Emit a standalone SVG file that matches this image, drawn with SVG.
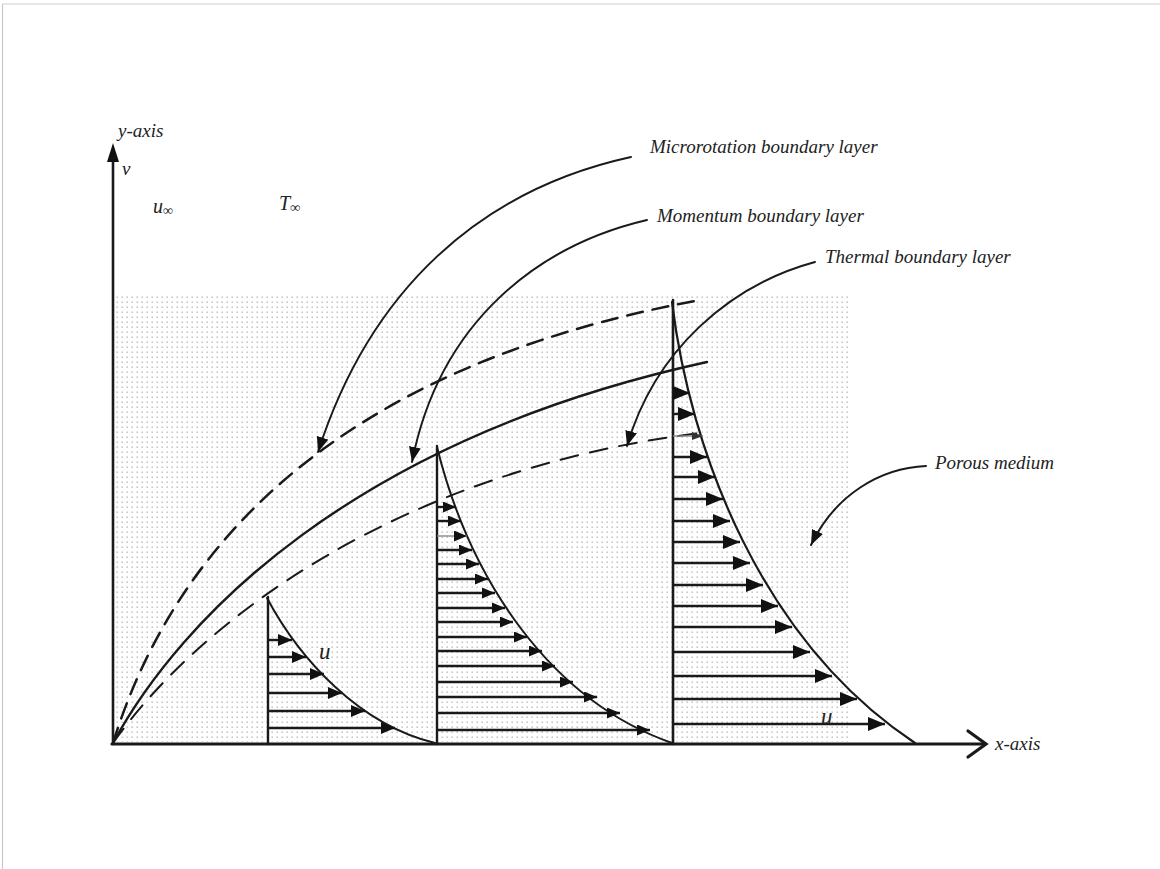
<svg xmlns="http://www.w3.org/2000/svg" width="1160" height="869" viewBox="0 0 1160 869">
<style>
.lbl{font-family:"Liberation Serif","Times New Roman",serif;font-style:italic;font-size:19px;fill:#222}
.ln{fill:none;stroke:#1a1a1a;stroke-linecap:round}
.sh{stroke:#1a1a1a;stroke-width:2.4}
.gs{stroke:#888;stroke-width:1.4}
</style>
<defs>
<pattern id="dots" x="0" y="0" width="5" height="5" patternUnits="userSpaceOnUse">
<rect x="1.5" y="1.5" width="1.4" height="1.4" fill="#b8b8b8"/>
</pattern>
<marker id="ah" markerWidth="16" markerHeight="12" refX="15" refY="6" orient="auto" markerUnits="userSpaceOnUse"><path d="M0,0 L15,6 L0,12 z" fill="#111"/></marker>
<marker id="a1" markerWidth="15" markerHeight="12" refX="14" refY="6" orient="auto" markerUnits="userSpaceOnUse"><path d="M0,0 L14,6 L0,12 z" fill="#111"/></marker>
<marker id="a2" markerWidth="14" markerHeight="12" refX="13" refY="5.5" orient="auto" markerUnits="userSpaceOnUse"><path d="M0,0 L13,5.5 L0,11 z" fill="#111"/></marker>
<marker id="a3" markerWidth="18" markerHeight="15" refX="17" refY="7" orient="auto" markerUnits="userSpaceOnUse"><path d="M0,0 L17,7 L0,14 z" fill="#111"/></marker>
<marker id="ag" markerWidth="12" markerHeight="10" refX="11" refY="4" orient="auto" markerUnits="userSpaceOnUse"><path d="M0,0 L11,4 L0,8 z" fill="#333"/></marker>
</defs>
<rect width="1160" height="869" fill="#fff"/>
<line x1="2" y1="4" x2="1160" y2="4" stroke="#d0d0d0" stroke-width="1.2"/>
<line x1="2.5" y1="4" x2="2.5" y2="869" stroke="#c8c8c8" stroke-width="1.2"/>
<rect id="porous" x="115" y="293" width="734" height="449" fill="url(#dots)"/>

<g id="axes">
<line class="ln" x1="113" y1="744" x2="113" y2="158" stroke-width="2.6"/>
<path d="M113,143 L119,162 L107,162 z" fill="#111"/>
<line class="ln" x1="112" y1="744" x2="984" y2="744" stroke-width="3.2"/>
<path class="ln" d="M968,731 L986,744 L968,757" stroke-width="3.2"/>
<text class="lbl" x="118" y="137">y-axis</text>
<text class="lbl" x="995" y="750">x-axis</text>
<text class="lbl" x="122" y="175">v</text>
</g>

<g id="freestream">
<text class="lbl" x="153" y="213" style="font-size:20px">u<tspan style="font-size:14px" dy="2">∞</tspan></text>
<text class="lbl" x="279" y="210" style="font-size:20px">T<tspan style="font-size:14px" dy="2">∞</tspan></text>
</g>

<g id="boundary-curves">
<path id="micro-curve" class="ln" d="M113,743 C170,560 320,370 700,300" stroke-width="2.5" stroke-dasharray="16 10"/>
<path id="momentum-curve" class="ln" d="M113,743 C180,620 350,440 707,362" stroke-width="2.4"/>
<path id="thermal-curve" class="ln" d="M113,743 C200,620 400,470 700,433" stroke-width="2" stroke-dasharray="18 12"/>
</g>

<g id="profile1">
<line class="ln" x1="268" y1="597" x2="268" y2="744" stroke-width="2.4"/>
<path class="ln" d="M267,598 C300,660 360,725 435,743" stroke-width="2"/>
<g class="sh" marker-end="url(#a1)">
<line x1="268" y1="640" x2="292" y2="640"/>
<line x1="268" y1="657" x2="306" y2="657"/>
<line x1="268" y1="674" x2="324" y2="674"/>
<line x1="268" y1="693" x2="342" y2="693"/>
<line x1="268" y1="711" x2="365" y2="711"/>
<line x1="268" y1="728" x2="395" y2="728"/>
</g>
<text class="lbl" x="319" y="659" style="font-size:23px">u</text>
</g>

<g id="profile2">
<line class="ln" x1="437" y1="446" x2="437" y2="744" stroke-width="2.4"/>
<path class="ln" d="M437,447 C470,580 550,700 672,743" stroke-width="2"/>
<g class="sh" marker-end="url(#a2)">
<line x1="437" y1="507" x2="456" y2="507"/>
<line x1="437" y1="521" x2="461" y2="521"/>
<line x1="437" y1="550" x2="472" y2="550"/>
<line x1="437" y1="564" x2="479" y2="564"/>
<line x1="437" y1="579" x2="488" y2="579"/>
<line x1="437" y1="593" x2="495" y2="593"/>
<line x1="437" y1="608" x2="505" y2="608"/>
<line x1="437" y1="622" x2="513" y2="622"/>
<line x1="437" y1="637" x2="527" y2="637"/>
<line x1="437" y1="651" x2="542" y2="651"/>
<line x1="437" y1="666" x2="555" y2="666"/>
<line x1="437" y1="682" x2="573" y2="682"/>
<line x1="437" y1="697" x2="597" y2="697"/>
<line x1="437" y1="713" x2="620" y2="713"/>
<line x1="437" y1="730" x2="650" y2="730"/>
</g>
<line class="gs" x1="437" y1="536" x2="467" y2="536" marker-end="url(#a2)"/>
</g>

<g id="profile3">
<line class="ln" x1="673" y1="300" x2="673" y2="744" stroke-width="2.6"/>
<path class="ln" d="M672,302 C690,450 760,640 915,743" stroke-width="2.2"/>
<g class="sh" stroke-width="2.6" marker-end="url(#a3)">
<line x1="673" y1="393" x2="690" y2="393"/>
<line x1="673" y1="414" x2="695" y2="414"/>
<line x1="673" y1="457" x2="707" y2="457"/>
<line x1="673" y1="477" x2="715" y2="477"/>
<line x1="673" y1="499" x2="723" y2="499"/>
<line x1="673" y1="521" x2="730" y2="521"/>
<line x1="673" y1="542" x2="740" y2="542"/>
<line x1="673" y1="563" x2="750" y2="563"/>
<line x1="673" y1="585" x2="763" y2="585"/>
<line x1="673" y1="606" x2="778" y2="606"/>
<line x1="673" y1="627" x2="792" y2="627"/>
<line x1="673" y1="652" x2="810" y2="652"/>
<line x1="673" y1="676" x2="832" y2="676"/>
<line x1="673" y1="699" x2="857" y2="699"/>
<line x1="673" y1="724" x2="885" y2="724"/>
</g>
<line class="gs" x1="673" y1="436" x2="703" y2="436" marker-end="url(#ag)"/>
<text class="lbl" x="821" y="724" style="font-size:23px">u</text>
</g>

<g id="connectors">
<path class="ln" d="M631,157 C480,190 370,290 318,452" stroke-width="2" marker-end="url(#ah)"/>
<path class="ln" d="M647,220 C540,245 440,320 412,462" stroke-width="2" marker-end="url(#ah)"/>
<path class="ln" d="M815,262 C730,285 655,350 627,446" stroke-width="2" marker-end="url(#ah)"/>
<path class="ln" d="M926,466 C880,468 835,495 811,545" stroke-width="2" marker-end="url(#ah)"/>
</g>

<g id="label-micro"><text class="lbl" x="650" y="153">Microrotation boundary layer</text></g>
<g id="label-momentum"><text class="lbl" x="657" y="222">Momentum boundary layer</text></g>
<g id="label-thermal"><text class="lbl" x="825" y="263">Thermal boundary layer</text></g>
<g id="label-porous"><text class="lbl" x="935" y="469">Porous medium</text></g>
</svg>
